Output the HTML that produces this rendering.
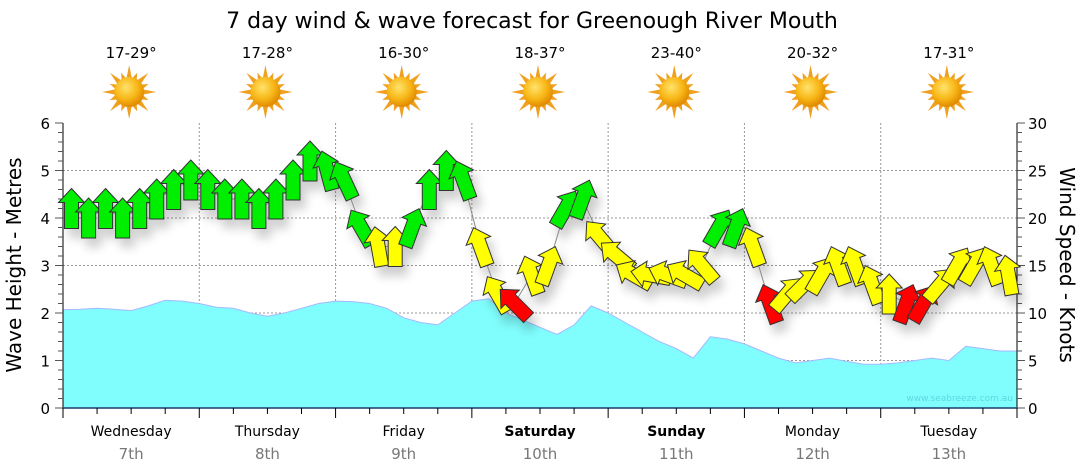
<!DOCTYPE html>
<html><head><meta charset="utf-8"><style>
body{margin:0;background:#fff;}
svg{display:block;font-family:"DejaVu Sans","Liberation Sans",sans-serif;}
</style></head><body>
<svg id="chart" width="1080" height="475" viewBox="0 0 1080 475">
<defs>
<radialGradient id="sung" cx="40%" cy="35%" r="65%"><stop offset="0" stop-color="#ffe36a"/><stop offset="0.6" stop-color="#f8b617"/><stop offset="1" stop-color="#e08a00"/></radialGradient>
<filter id="sh" x="-50%" y="-50%" width="200%" height="200%"><feGaussianBlur in="SourceAlpha" stdDeviation="5"/><feOffset dx="5" dy="9"/><feComponentTransfer><feFuncA type="linear" slope="0.2"/></feComponentTransfer><feMerge><feMergeNode/><feMergeNode in="SourceGraphic"/></feMerge></filter>
</defs>
<text x="532" y="28" font-size="22" text-anchor="middle" fill="#000">7 day wind &amp; wave forecast for Greenough River Mouth</text>
<text transform="translate(21,265) rotate(-90)" font-size="20" text-anchor="middle">Wave Height - Metres</text>
<text transform="translate(1060,265) rotate(90)" font-size="20" text-anchor="middle">Wind Speed - Knots</text>
<g id="grid"></g>
<g id="wave"></g>
<text x="1013" y="401" font-size="9" fill="#5fd8e0" text-anchor="end">www.seabreeze.com.au</text>
<g id="axes"></g>
<g id="wind" filter="url(#sh)"></g>
<g id="topg"></g>
</svg>
<script>
const days=["Wednesday","Thursday","Friday","Saturday","Sunday","Monday","Tuesday"];
const dates=["7th","8th","9th","10th","11th","12th","13th"];
const bold=[false,false,false,true,true,false,false];
const temps=["17-29°","17-28°","16-30°","18-37°","23-40°","20-32°","17-31°"];
const waveTicks=[0,1,2,3,4,5,6];
const windTicks=[0,5,10,15,20,25,30];
const waveHeights=[2.07,2.08,2.1,2.08,2.05,2.15,2.27,2.25,
 2.2,2.12,2.1,2.0,1.93,2.0,2.1,2.2,
 2.25,2.24,2.2,2.1,1.9,1.8,1.75,2.0,
 2.25,2.3,2.0,1.85,1.7,1.55,1.75,2.15,
 2.0,1.8,1.6,1.4,1.25,1.05,1.5,1.45,
 1.35,1.2,1.05,0.95,1.0,1.05,0.98,0.92,
 0.92,0.95,1.0,1.05,1.0,1.3,1.25,1.2,1.2];
const windSpeeds=[21,20,21,20,21,22,23,24,
 23,22,22,21,22,24,26,25,
 24,19,17,17,19,23,25,24,
 17,12,11,14,15,21,22,18,
 16,14,14,14,14,15,19,19,
 17,11,12,13,14,15,15,13,
 12,11,11,13,15,15,15,14];
const windDirs=[0,0,0,0,0,0,0,0,
 0,0,0,0,0,0,0,-15,
 -25,-30,-10,0,20,0,0,-20,
 -20,-30,-45,-20,20,30,20,-40,
 -50,-60,-80,-70,-60,-40,30,20,
 -20,-20,40,45,30,-20,-20,-20,
 0,20,30,40,30,30,-20,-10];
const NS="http://www.w3.org/2000/svg";
const X0=63,X1=1017,Y0=408,Y1=123,DW=(X1-X0)/7;
const xs=i=>X0+i*(DW/8)+DW/16;
const xw=i=>X0+i*(DW/8);
const yWave=v=>Y0-(v/6)*(Y0-Y1);
const yWind=v=>Y0-(v/30)*(Y0-Y1);
function el(tag,attrs,parent){const e=document.createElementNS(NS,tag);for(const k in attrs)e.setAttribute(k,attrs[k]);parent.appendChild(e);return e;}
const grid=document.getElementById('grid'),axes=document.getElementById('axes'),wave=document.getElementById('wave'),wind=document.getElementById('wind'),topG=document.getElementById('topg');
waveTicks.forEach(t=>{if(t>0&&t<6){const g=el('line',{x1:X0,x2:X1,y1:yWave(t),y2:yWave(t),stroke:'#999','stroke-dasharray':'2,2','stroke-width':1},grid);

}});
for(let d=1;d<7;d++){const g=el('line',{x1:X0+d*DW,x2:X0+d*DW,y1:Y1,y2:Y0,stroke:'#999','stroke-dasharray':'2,2'},grid);

}
let p='M'+X0+','+Y0;waveHeights.forEach((v,i)=>{p+=' L'+xw(i).toFixed(1)+','+yWave(v).toFixed(1);});p+=' L'+X1+','+Y0+' Z';
const wa=el('path',{d:p,fill:'#80fdfd',stroke:'#a8b8ff','stroke-width':1},wave);


el('line',{x1:X0,x2:X0,y1:Y1,y2:Y0,stroke:'#000'},axes);
el('line',{x1:X1,x2:X1,y1:Y1,y2:Y0,stroke:'#000'},axes);
el('line',{x1:X0,x2:X1,y1:Y0,y2:Y0,stroke:'#1a3d6e','stroke-width':1.5},axes);
for(let k=0;k<=30;k++){const y=Y0-k*(Y0-Y1)/30;const big=k%5==0;
el('line',{x1:X0-(big?8:5),x2:X0,y1:y,y2:y,stroke:'#555'},axes);
el('line',{x1:X1,x2:X1+(big?8:5),y1:y,y2:y,stroke:'#555'},axes);}
waveTicks.forEach(t=>{const tx=el('text',{x:50,y:yWave(t)+6,'font-size':15,'text-anchor':'end'},axes);tx.textContent=t;

});
windTicks.forEach(t=>{const tx=el('text',{x:1028,y:yWind(t)+6,'font-size':15},axes);tx.textContent=t;

});
for(let k=0;k<=28;k++){const x=X0+k*DW/4;el('line',{x1:x,x2:x,y1:Y0,y2:Y0+(k%4==0?10:6),stroke:'#000'},axes);}
days.forEach((d,i)=>{const cx=X0+DW*i+DW/2;
const t=el('text',{x:cx,y:436,'font-size':14,'text-anchor':'middle','font-weight':bold[i]?'bold':'normal'},axes);t.textContent=d;


const t2=el('text',{x:cx,y:459,'font-size':15,'text-anchor':'middle',fill:'#777'},axes);t2.textContent=dates[i];


const t3=el('text',{x:cx,y:58,'font-size':15,'text-anchor':'middle'},topG);t3.textContent=temps[i];


const g=el('g',{transform:'translate('+(cx-2)+',92)'},topG);


for(let r=0;r<16;r++){const a=r*22.5;const L=r%2?21:27;el('polygon',{points:'-3,-12 3,-12 0,-'+L,fill:'#f0a020',transform:'rotate('+a+')'},g);}
el('circle',{r:15,fill:'url(#sung)'},g);});
let lp='';windSpeeds.forEach((v,i)=>{lp+=(i?' L':'M')+xs(i).toFixed(1)+','+yWind(v).toFixed(1);});
el('path',{d:lp,fill:'none',stroke:'#888','stroke-width':1},wind);
windSpeeds.forEach((v,i)=>{const col=v>=19?'#00ee00':(v<=11?'#ff0000':'#ffff00');
const a=el('polygon',{points:'0,-20 13,-6 7,-6 7,20 -7,20 -7,-6 -13,-6',fill:col,stroke:'#333','stroke-width':1,transform:'translate('+xs(i).toFixed(1)+','+yWind(v).toFixed(1)+') rotate('+windDirs[i]+')'},wind);

});
</script>
</body></html>
